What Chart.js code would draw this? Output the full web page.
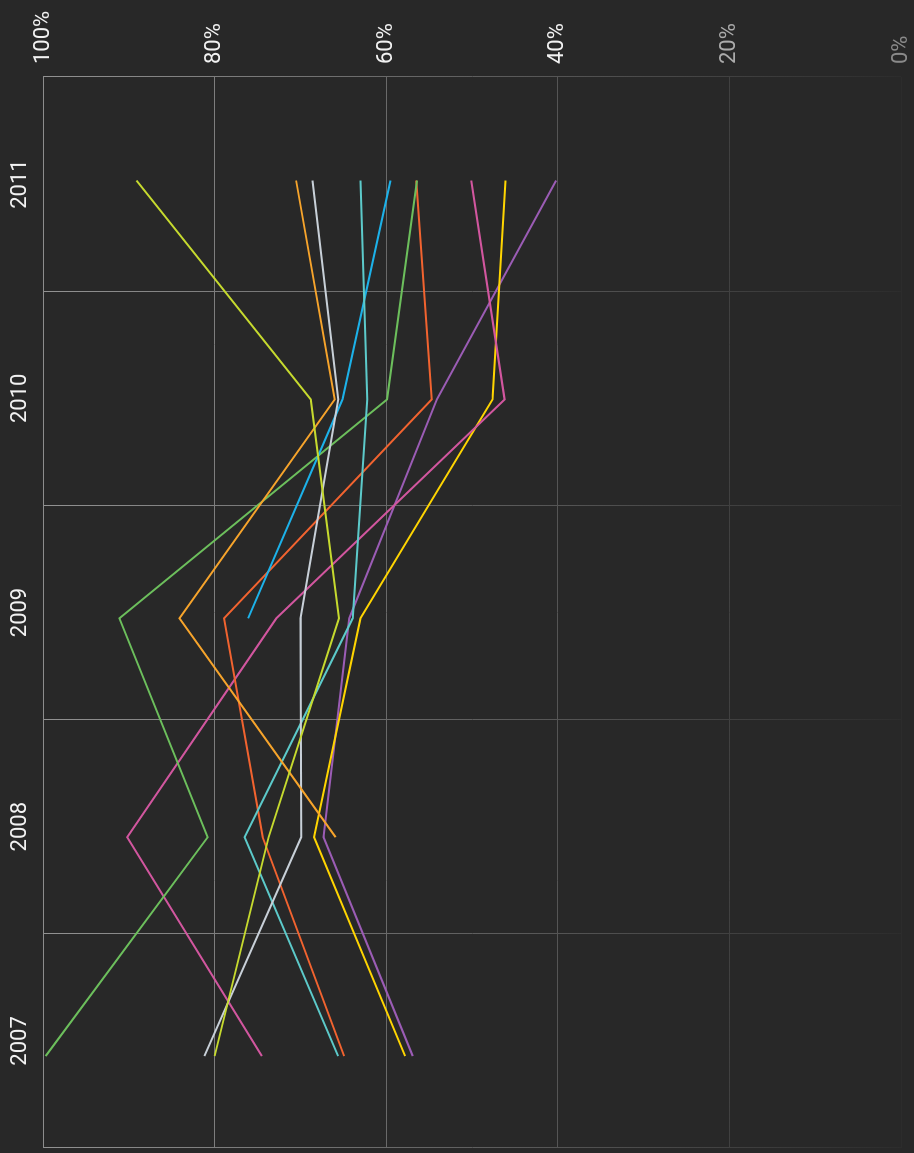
<!DOCTYPE html>
<html>
<head>
<meta charset="utf-8">
<script src="https://cdn.jsdelivr.net/npm/chart.js@4/dist/chart.umd.min.js"></script>
<style>
  html, body { margin: 0; padding: 0; background: #282828; overflow: hidden; }
  #wrap {
    position: absolute; left: 0; top: 0;
    width: 1153px; height: 914px;
    transform-origin: 0 0;
    transform: translateY(1153px) rotate(-90deg);
  }
</style>
</head>
<body>
<div id="wrap"><canvas id="chart" width="1153" height="914"></canvas></div>
<script>
// years and shares (%), one array per line
const years = [2007, 2008, 2009, 2010, 2011];
const yTicks = [0, 20, 40, 60, 80, 100];

const limeGreen = [80.0, 73.7, 65.5, 68.8, 89.1];
const orange    = [null, 65.9, 84.1, 66.0, 70.5];
const silver    = [81.2, 69.9, 70.0, 65.6, 68.6];
const teal      = [65.6, 76.5, 63.9, 62.2, 63.0];
const skyBlue   = [null, null, 76.1, 65.1, 59.5];
const green     = [99.7, 80.8, 91.1, 59.9, 56.4];
const redOrange = [64.9, 74.4, 78.9, 54.7, 56.5];
const pink      = [74.5, 90.2, 72.8, 46.2, 50.1];
const yellow    = [57.8, 68.4, 63.0, 47.6, 46.1];
const purple    = [56.9, 67.3, 64.3, 54.1, 40.2];

function series(label, values, color) {
    return {
        label: label,
        data: years.map((y, i) => ({x: y, y: values[i]})).filter(p => p.y !== null),
        borderColor: color,
        backgroundColor: color,
        borderWidth: 2,
        pointRadius: 0,
        tension: 0,
        xAxisID: 'x',
        yAxisID: 'y'
    };
}

let gradCache = null;
function gridGradient(chart) {
    const area = chart.chartArea;
    if (!area) return '#666';
    const key = area.top + ':' + area.bottom;
    if (gradCache && gradCache.key === key) return gradCache.g;
    const g = chart.ctx.createLinearGradient(0, area.top, 0, area.bottom);
    g.addColorStop(0, '#929292');
    g.addColorStop(1, '#2c2c2c');
    gradCache = {key: key, g: g};
    return g;
}

const font = {family: 'Roboto', size: 22};

new Chart(document.getElementById('chart').getContext('2d'), {
    type: 'line',
    data: {
        datasets: [
            series('Lime', limeGreen, '#c6da2e'),
            series('Orange', orange, '#f7a42b'),
            series('Silver', silver, '#c8d0d8'),
            series('Teal', teal, '#5ccaca'),
            series('Sky blue', skyBlue, '#1cb2ea'),
            series('Green', green, '#6cbf5c'),
            series('Red orange', redOrange, '#f2632f'),
            series('Pink', pink, '#d2569f'),
            series('Yellow', yellow, '#ffd500'),
            series('Purple', purple, '#9b5cb5')
        ]
    },
    options: {
        responsive: false,
        animation: false,
        layout: {padding: {left: 5, bottom: 13, top: 0, right: 0}},
        plugins: {legend: {display: false}, tooltip: {enabled: false}},
        scales: {
            x: {
                type: 'linear',
                display: false,
                min: 2006.58,
                max: 2011.473
            },
            xc: {
                type: 'category',
                labels: years.map(String),
                position: 'top',
                offset: true,
                grid: {offset: true, drawTicks: false, color: c => gridGradient(c.chart), lineWidth: 1},
                border: {display: true, color: '#8c8c8c', width: 1},
                ticks: {color: '#f2f2f2', font: font, padding: 9, maxRotation: 0},
                afterFit: s => { s.height = 43; s.paddingLeft = 0; s.paddingRight = 0; }
            },
            y: {
                position: 'right',
                min: 0,
                max: 100,
                afterBuildTicks: s => { s.ticks = yTicks.map(v => ({value: v})); },
                grid: {drawTicks: false, color: c => gridGradient(c.chart), lineWidth: 1},
                border: {display: false},
                ticks: {
                    font: font,
                    padding: 13,
                    color: c => c.tick.value >= 40 ? '#f2f2f2' : (c.tick.value >= 20 ? '#ababab' : '#8a8a8a'),
                    callback: v => v + '%'
                },
                afterFit: s => { s.width = 77; s.paddingTop = 0; s.paddingBottom = 0; }
            }
        }
    }
});
</script>
</body>
</html>
